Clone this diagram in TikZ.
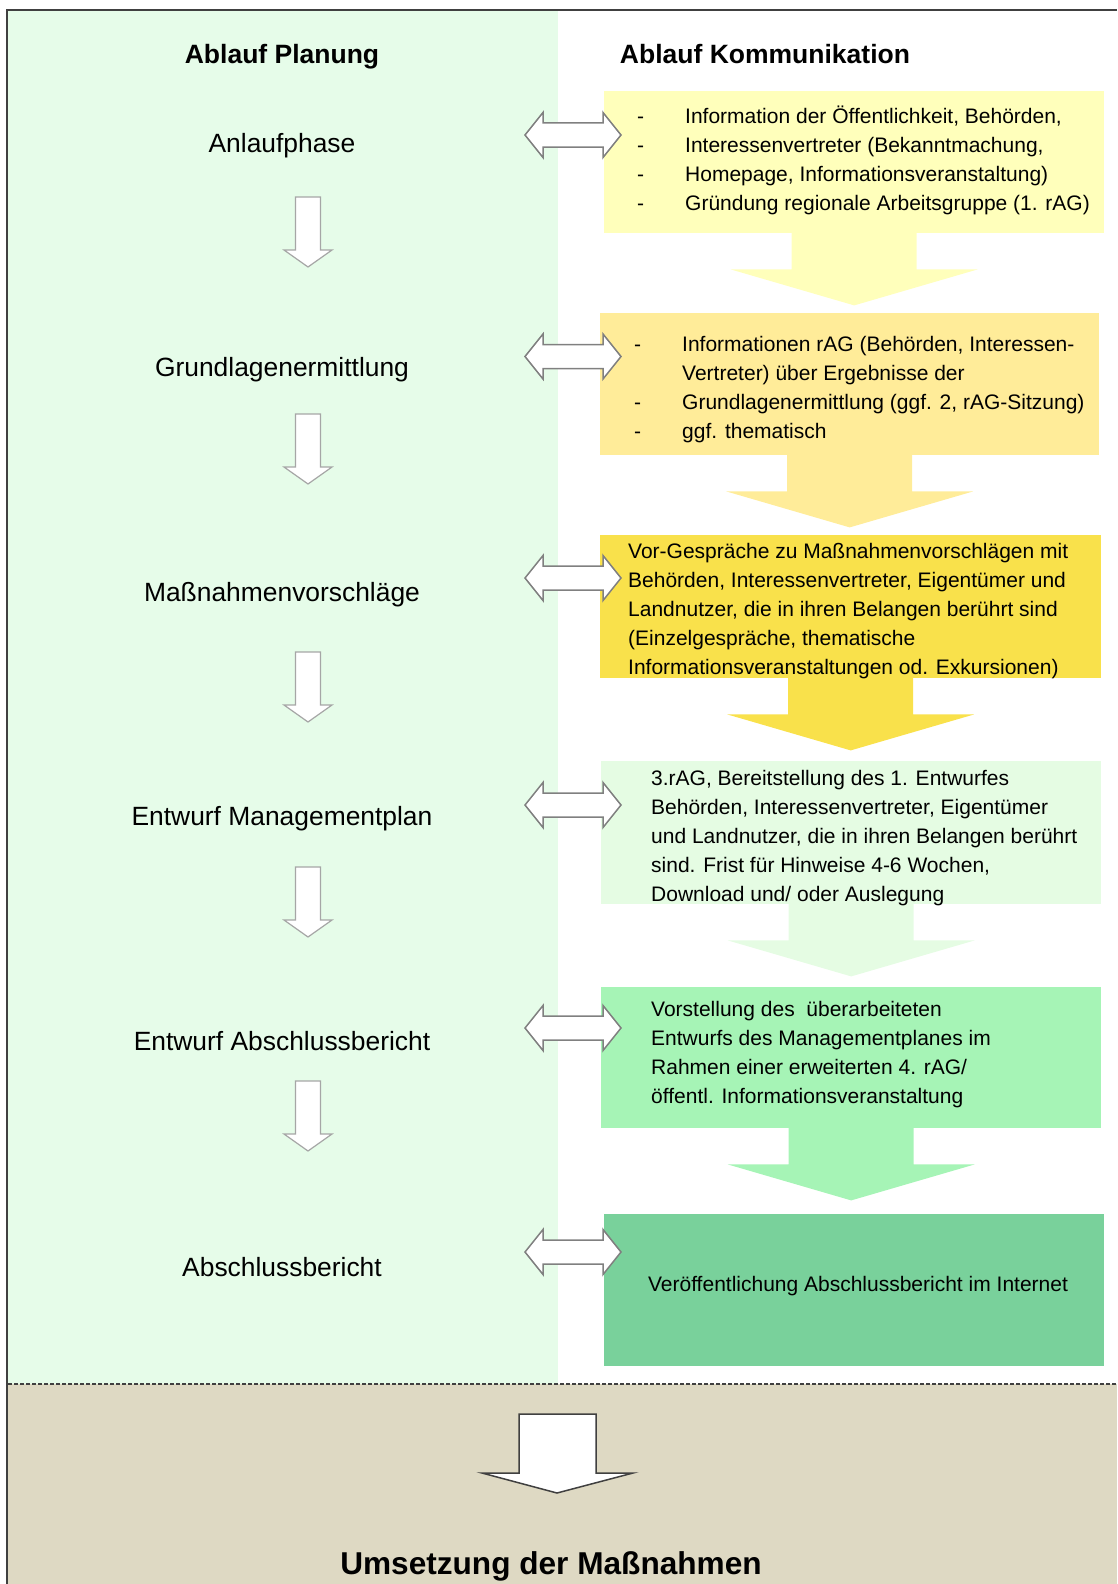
\documentclass[tikz,border=0pt]{standalone}
\usepackage{fontspec}
\setmainfont{Liberation Sans}
\usetikzlibrary{positioning}

\definecolor{planbg}{HTML}{E6FCE9}
\definecolor{umsbg}{HTML}{DED9C3}
\definecolor{komA}{HTML}{FFFFBB}
\definecolor{komB}{HTML}{FFEC99}
\definecolor{komC}{HTML}{F9E14B}
\definecolor{komD}{HTML}{E5FCE3}
\definecolor{komE}{HTML}{A6F4B6}
\definecolor{komF}{HTML}{79D19B}
\definecolor{rahmengrau}{HTML}{404040}

\newcommand{\strich}{\makebox[48pt][l]{-}}
\newcommand{\ohne}{\hspace*{48pt}}

\tikzset{
  kbox/.style={rectangle, inner sep=0pt, anchor=north west},
  % base anchor of a multi-line node sits on its last line
  ktext/.style={anchor=base west, align=left, inner sep=0pt, font=\fontsize{21}{29}\selectfont},
  phase/.style={anchor=base, inner sep=0pt, font=\fontsize{26.4}{32}\selectfont},
  kopf/.style={anchor=base, inner sep=0pt, font=\bfseries\fontsize{26.5}{32}\selectfont},
  pfeilklein/.pic={
    \draw[draw=black!35, fill=white, line width=1.2pt] (-12.5,0) -- (12.5,0) -- (12.5,53) -- (24,53)
      -- (0,70) -- (-24,53) -- (-12.5,53) -- cycle;
  },
  doppelpfeil/.pic={
    \draw[draw=black!50, fill=white, line width=1.5pt] (-48,0) -- (-30,-22.5) -- (-30,-12) -- (30,-12)
      -- (30,-22.5) -- (48,0) -- (30,22.5) -- (30,12) -- (-30,12) -- (-30,22.5) -- cycle;
  },
  flusspfeil/.pic={
    \fill[pic actions] (-62.5,-1) -- (62.5,-1) -- (62.5,36) -- (123.5,36) -- (0,72)
      -- (-123.5,36) -- (-62.5,36) -- cycle;
  },
}

\begin{document}
\begin{tikzpicture}[x=1pt, y=-1pt]
    \useasboundingbox (0,0) rectangle (1117,1584);

    % background
    \fill[planbg] (8,11) rectangle (558,1384);
    \fill[umsbg] (8,1384) rectangle (1117,1584);
    \draw[rahmengrau, line width=1.5pt] (7,1584) -- (7,10) -- (1117,10);
    \draw[rahmengrau, line width=1.6pt, dash pattern=on 3.5pt off 2.5pt] (8,1384) -- (1117,1384);

    \node(h1) [kopf] at (282,64) {Ablauf Planung};
    \node(h2) [kopf] at (765,64) {Ablauf Kommunikation};

    % planning steps
    \node(p1) [phase] at (282,153)    {Anlaufphase};
    \node(p2) [phase] at (282,376)    {Grundlagenermittlung};
    \node(p3) [phase] at (282,601.5)  {Maßnahmenvorschläge};
    \node(p4) [phase] at (282,825.5)  {Entwurf Managementplan};
    \node(p5) [phase] at (282,1050.5) {Entwurf Abschlussbericht};
    \node(p6) [phase] at (282,1276)   {Abschlussbericht};

    \pic at (308,197)  {pfeilklein};
    \pic at (308,414)  {pfeilklein};
    \pic at (308,652)  {pfeilklein};
    \pic at (308,867)  {pfeilklein};
    \pic at (308,1081) {pfeilklein};

    % communication boxes
    \node(k1) [kbox, fill=komA, minimum width=500pt, minimum height=142pt] at (604,91)  {};
    \node(k2) [kbox, fill=komB, minimum width=499pt, minimum height=142pt] at (600,313) {};
    \node(k3) [kbox, fill=komC, minimum width=501pt, minimum height=143pt] at (600,535) {};
    \node(k4) [kbox, fill=komD, minimum width=500pt, minimum height=143pt] at (601,761) {};
    \node(k5) [kbox, fill=komE, minimum width=500pt, minimum height=141pt] at (601,987) {};
    \node(k6) [kbox, fill=komF, minimum width=500pt, minimum height=152pt] at (604,1214) {};

    \pic[fill=komA] at (k1.south) {flusspfeil};
    \pic[fill=komB] at (k2.south) {flusspfeil};
    \pic[fill=komC] at (k3.south) {flusspfeil};
    \pic[fill=komD] at (k4.south) {flusspfeil};
    \pic[fill=komE] at (k5.south) {flusspfeil};

    \node(t1) [ktext] at (637,210) {\strich Information der Öffentlichkeit, Behörden,\\
      \strich Interessenvertreter (Bekanntmachung,\\
      \strich Homepage, Informationsveranstaltung)\\
      \strich Gründung regionale Arbeitsgruppe (1. rAG)};
    \node(t2) [ktext] at (634,438.5) {\strich Informationen rAG (Behörden, Interessen-\\
      \ohne Vertreter) über Ergebnisse der\\
      \strich Grundlagenermittlung (ggf. 2, rAG-Sitzung)\\
      \strich ggf. thematisch};
    \node(t3) [ktext] at (628,674) {Vor-Gespräche zu Maßnahmenvorschlägen mit\\
      Behörden, Interessenvertreter, Eigentümer und\\
      Landnutzer, die in ihren Belangen berührt sind\\
      (Einzelgespräche, thematische\\
      Informationsveranstaltungen od. Exkursionen)};
    \node(t4) [ktext] at (651,901) {3.rAG, Bereitstellung des 1. Entwurfes\\
      Behörden, Interessenvertreter, Eigentümer\\
      und Landnutzer, die in ihren Belangen berührt\\
      sind. Frist für Hinweise 4-6 Wochen,\\
      Download und/ oder Auslegung};
    \node(t5) [ktext] at (651,1103) {Vorstellung des \ überarbeiteten\\
      Entwurfs des Managementplanes im\\
      Rahmen einer erweiterten 4. rAG/\\
      öffentl. Informationsveranstaltung};
    \node(t6) [ktext, anchor=base] at (858,1291) {Veröffentlichung Abschlussbericht im Internet};

    % exchange between both sides
    \pic at (573,135)    {doppelpfeil};
    \pic at (573,356.5)  {doppelpfeil};
    \pic at (573,578)    {doppelpfeil};
    \pic at (573,805)    {doppelpfeil};
    \pic at (573,1028)   {doppelpfeil};
    \pic at (573,1252)   {doppelpfeil};

    % implementation
    \draw[draw=rahmengrau, fill=white, line width=1.5pt] (519,1414) -- (596,1414) -- (596,1473) -- (633,1473)
      -- (557,1493) -- (482,1473) -- (519,1473) -- cycle;
    \node(u) [kopf, font=\bfseries\fontsize{31.6}{36}\selectfont] at (551,1574.5) {Umsetzung der Maßnahmen};

  \end{tikzpicture}
\end{document}
